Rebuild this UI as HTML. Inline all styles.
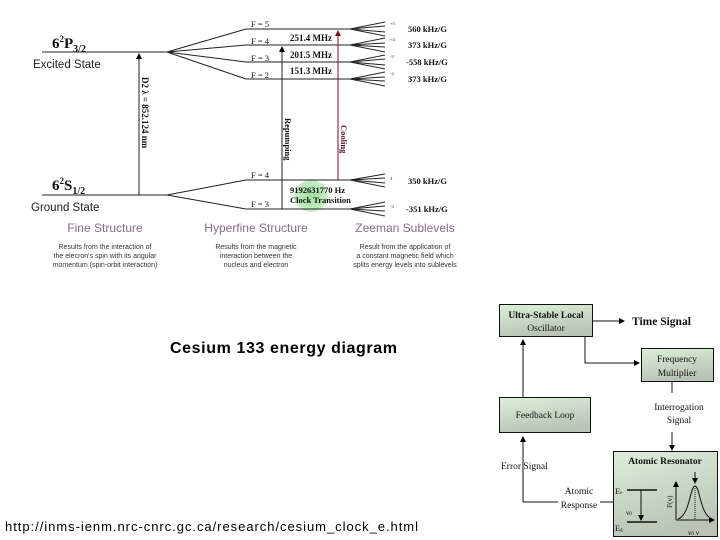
<!DOCTYPE html>
<html><head><meta charset="utf-8"><style>
html,body{margin:0;padding:0;background:#fff;}
svg{display:block;}
.s{font-family:"Liberation Serif",serif;}
.a{font-family:"Liberation Sans",sans-serif;}
</style></head><body>
<svg width="720" height="540" viewBox="0 0 720 540" xmlns="http://www.w3.org/2000/svg">
<defs>
<marker id="ah" markerWidth="6" markerHeight="6" refX="3" refY="3" orient="auto"><path d="M0,0 L6,3 L0,6 z" fill="#000"/></marker>
<marker id="ahr" markerWidth="6" markerHeight="6" refX="3" refY="3" orient="auto"><path d="M0,0 L6,3 L0,6 z" fill="#7a1020"/></marker>
<linearGradient id="bx" x1="0" y1="0" x2="0.3" y2="1"><stop offset="0" stop-color="#dcefd8"/><stop offset="1" stop-color="#b9c4b6"/></linearGradient>
<radialGradient id="gb" cx="0.5" cy="0.5" r="0.5"><stop offset="0" stop-color="#9ee09e"/><stop offset="1" stop-color="#c8efc8"/></radialGradient>
</defs>

<ellipse cx="311" cy="196" rx="17" ry="16" fill="url(#gb)"/>

<g stroke="#222" stroke-width="1" fill="none">
<line x1="42" y1="52" x2="167" y2="52"/>
<line x1="42" y1="195" x2="167" y2="195"/>
<path d="M167,52 L246,29 M167,52 L246,45 M167,52 L246,62 M167,52 L246,79"/>
<path d="M246,29 H350 M246,45 H350 M246,62 H350 M246,79 H350"/>
<path d="M167,195 L246,180 M167,195 L246,209 M246,180 H350 M246,209 H350"/>
<path d="M350,29 L385,22 M350,29 L385,26 M350,29 L385,32 M350,29 L385,36"/>
<path d="M350,45 L385,38 M350,45 L385,43 M350,45 L385,47 M350,45 L385,52"/>
<path d="M350,62 L385,55 M350,62 L385,59 M350,62 L385,65 M350,62 L385,69"/>
<path d="M350,79 L385,72 M350,79 L385,77 M350,79 L385,81 M350,79 L385,86"/>
<path d="M350,180 L385,174 M350,180 L385,178 M350,180 L385,183 M350,180 L385,187"/>
<path d="M350,209 L385,202 M350,209 L385,206 M350,209 L385,211 M350,209 L385,216"/>
</g>
<line x1="139" y1="195" x2="139" y2="56" stroke="#222" marker-end="url(#ah)"/>
<line x1="282" y1="209" x2="282" y2="49" stroke="#222" marker-end="url(#ah)"/>
<line x1="338" y1="180" x2="338" y2="33" stroke="#7a1020" marker-end="url(#ahr)"/>

<g class="s" font-size="9" fill="#111">
<text x="52" y="48" font-size="15" font-weight="bold">6<tspan font-size="9" dy="-6">2</tspan><tspan dy="6">P</tspan><tspan font-size="10" dy="4">3/2</tspan></text>
<text x="52" y="190" font-size="15" font-weight="bold">6<tspan font-size="9" dy="-6">2</tspan><tspan dy="6">S</tspan><tspan font-size="10" dy="4">1/2</tspan></text>
<text x="251" y="27" font-size="8.5">F = 5</text>
<text x="251" y="44" font-size="8.5">F = 4</text>
<text x="251" y="61" font-size="8.5">F = 3</text>
<text x="251" y="78" font-size="8.5">F = 2</text>
<text x="251" y="178" font-size="8.5">F = 4</text>
<text x="251" y="207" font-size="8.5">F = 3</text>
<text x="290" y="41" font-size="9" font-weight="bold">251.4 MHz</text>
<text x="290" y="58" font-size="9" font-weight="bold">201.5 MHz</text>
<text x="290" y="74" font-size="9" font-weight="bold">151.3 MHz</text>
<text x="290" y="193" font-size="8.5" font-weight="bold">9192631770 Hz</text>
<text x="290" y="203" font-size="8.5" font-weight="bold">Clock Transition</text>
<text x="408" y="32" font-size="8.5" font-weight="bold">560 kHz/G</text>
<text x="408" y="48" font-size="8.5" font-weight="bold">373 kHz/G</text>
<text x="406" y="65" font-size="8.5" font-weight="bold">-558 kHz/G</text>
<text x="408" y="82" font-size="8.5" font-weight="bold">373 kHz/G</text>
<text x="408" y="184" font-size="8.5" font-weight="bold">350 kHz/G</text>
<text x="406" y="212" font-size="8.5" font-weight="bold">-351 kHz/G</text>
<text transform="translate(142,77) rotate(90)" font-size="9" font-weight="bold">D2 λ = 852.124 nm</text>
<text transform="translate(285,118) rotate(90)" font-size="8.5" font-weight="bold">Repumping</text>
<text transform="translate(341,125) rotate(90)" font-size="8.5" font-weight="bold" fill="#5a1020">Cooling</text>
</g>
<g font-family="Liberation Serif,serif" font-size="4.5" fill="#222">
<text x="390" y="25">+5</text><text x="390" y="41">+4</text><text x="390" y="58">-3</text><text x="390" y="75">-2</text>
<text x="390" y="180">4</text><text x="390" y="208">-3</text>
</g>

<g class="a">
<text x="33" y="68" font-size="11.5" fill="#222">Excited State</text>
<text x="31" y="211" font-size="11.5" fill="#222">Ground State</text>
<g font-size="12" fill="#8a6a8a" text-anchor="middle">
<text x="105" y="232">Fine Structure</text>
<text x="256" y="232">Hyperfine Structure</text>
<text x="405" y="232">Zeeman Sublevels</text>
</g>
<g font-size="7" fill="#333" text-anchor="middle">
<text x="105" y="249">Results from the interaction of</text>
<text x="105" y="258">the elecron's spin with its angular</text>
<text x="105" y="267">momentum (spin-orbit interaction)</text>
<text x="256" y="249">Results from the magnetic</text>
<text x="256" y="258">interaction between the</text>
<text x="256" y="267">nucleus and electron</text>
<text x="405" y="249">Result from the application of</text>
<text x="405" y="258">a constant magnetic field which</text>
<text x="405" y="267">splits energy levels into sublevels</text>
</g>
<text x="170" y="353" font-size="16" font-weight="bold" textLength="227" fill="#000">Cesium 133 energy diagram</text>
<text x="5" y="531" font-size="13" textLength="413" fill="#000">http://inms-ienm.nrc-cnrc.gc.ca/research/cesium_clock_e.html</text>
</g>

<g stroke="#111" stroke-width="1">
<rect x="499.5" y="304.5" width="93" height="32" fill="url(#bx)"/>
<rect x="641.5" y="348.5" width="72" height="33" fill="url(#bx)"/>
<rect x="499.5" y="397.5" width="91" height="35" fill="url(#bx)"/>
<rect x="613.5" y="451.5" width="104" height="85" fill="url(#bx)"/>
<g fill="none">
<line x1="593" y1="321" x2="622" y2="321" marker-end="url(#ah)"/>
<path d="M585,337 V363 H637" marker-end="url(#ah)"/>
<line x1="523" y1="397" x2="523" y2="342" marker-end="url(#ah)"/>
<line x1="672" y1="382" x2="672" y2="393"/>
<line x1="672" y1="432" x2="672" y2="448" marker-end="url(#ah)"/>
<path d="M523,502 V439" marker-end="url(#ah)"/>
<line x1="523" y1="502" x2="558" y2="502"/>
<line x1="600" y1="502" x2="613" y2="502"/>
<line x1="627" y1="490" x2="657" y2="490" stroke-width="1.5"/>
<line x1="627" y1="522" x2="657" y2="522" stroke-width="1.5"/>
<line x1="641" y1="490" x2="641" y2="518" marker-end="url(#ah)"/>
<path d="M676,520 V484" marker-end="url(#ah)"/>
<path d="M676,520 H712" marker-end="url(#ah)"/>
<path d="M678,519 C690,515 690,486 695,486 C700,486 700,515 712,519"/>
<line x1="695" y1="486" x2="695" y2="520" stroke-dasharray="1,1"/>
<line x1="695" y1="472" x2="695" y2="481" marker-end="url(#ah)"/>
</g>
</g>
<g class="s" fill="#111" font-size="9.5">
<text x="546" y="318" text-anchor="middle" font-weight="bold">Ultra-Stable Local</text>
<text x="546" y="331" text-anchor="middle">Oscillator</text>
<text x="632" y="325" font-size="11.5" font-weight="bold">Time Signal</text>
<text x="677" y="362" text-anchor="middle">Frequency</text>
<text x="677" y="376" text-anchor="middle">Multiplier</text>
<text x="545" y="418" text-anchor="middle">Feedback Loop</text>
<text x="679" y="410" text-anchor="middle">Interrogation</text>
<text x="679" y="423" text-anchor="middle">Signal</text>
<text x="665" y="464" text-anchor="middle" font-weight="bold">Atomic Resonator</text>
<text x="501" y="469">Error Signal</text>
<text x="579" y="494" text-anchor="middle">Atomic</text>
<text x="579" y="508" text-anchor="middle">Response</text>
<text x="615" y="494" font-size="8.5">E<tspan font-size="5">e</tspan></text>
<text x="615" y="531" font-size="8.5">E<tspan font-size="5">g</tspan></text>
<text x="626" y="515" font-size="7.5">ν<tspan font-size="5">0</tspan></text>
<text x="688" y="535" font-size="7.5">ν<tspan font-size="5">0</tspan> ν</text>
<text transform="translate(672,508) rotate(-90)" font-size="7.5">F(ν)</text>
</g>
</svg>
</body></html>
